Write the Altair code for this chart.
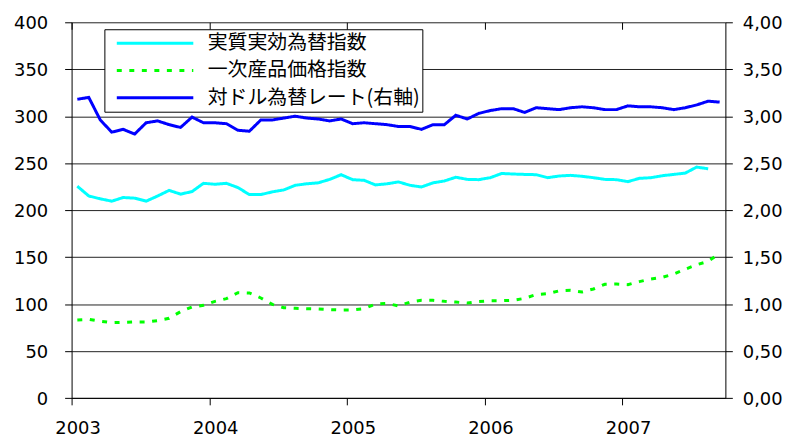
import altair as alt
import pandas as pd

years = [2003, 2004, 2005, 2006, 2007]
n_months = 57

series_names = ["実質実効為替指数", "一次産品価格指数", "対ドル為替レート(右軸)"]
colors = ["#00FFFF", "#00FF00", "#0000FF"]
dashes = [[1, 0], [5, 7.6], [1, 0]]

# 実質実効為替指数 (left axis), Jan 2003 - Aug 2007
reer = [225.4, 215, 212, 209.5, 213.4, 212.7, 209.5, 215, 221, 217,
        219.7, 228.5, 227.5, 228.5, 224, 216.5, 216.5, 219.4, 221.5, 226.4,
        228, 229, 232.7, 237.7, 232.4, 231.7, 226.8, 228, 230, 226.4,
        224.6, 229, 231, 235, 232.7, 232.4, 234.5, 239, 238.4, 238,
        237.7, 234.5, 236.3, 237, 236, 234.5, 232.7, 232.4, 230.3, 233.8,
        234.5, 236.6, 238, 239.4, 245.8, 244]

# 一次産品価格指数 (left axis), Jan 2003 - Sep 2007
commodity = [83, 83.7, 81.6, 80.1, 80.5, 80.9, 80.9, 82.3, 84.8, 91.8,
             96.8, 98.6, 102.8, 105.7, 112, 111.7, 106.4, 99.6, 96, 95.4,
             95, 94.7, 94, 93.6, 93.6, 95, 100, 100.7, 97.9, 102,
             103.9, 103.9, 102.8, 102, 101, 102.5, 103.5, 103.5, 104, 106,
             110, 111, 114, 114.5, 112.8, 116, 121, 121.3, 120.6, 123.8,
             126.6, 128.4, 132, 137, 141.8, 145.4, 154]

# 対ドル為替レート (right axis), Jan 2003 - Sep 2007
usd_rate = [3.18, 3.20, 2.96, 2.83, 2.86, 2.81, 2.93, 2.95, 2.91, 2.88,
            2.99, 2.93, 2.93, 2.92, 2.85, 2.84, 2.96, 2.96, 2.98, 3.00,
            2.98, 2.97, 2.95, 2.97, 2.92, 2.93, 2.92, 2.91, 2.89, 2.89,
            2.86, 2.91, 2.91, 3.01, 2.97, 3.03, 3.06, 3.08, 3.08, 3.04,
            3.09, 3.08, 3.07, 3.09, 3.10, 3.09, 3.07, 3.07, 3.11, 3.10,
            3.10, 3.09, 3.07, 3.09, 3.12, 3.16, 3.15]

left_ticks = [0, 50, 100, 150, 200, 250, 300, 350, 400]
right_ticks = [0, 0.5, 1.0, 1.5, 2.0, 2.5, 3.0, 3.5, 4.0]

rows = []
for name, vals in zip(series_names, [reer, commodity, usd_rate]):
    for i, v in enumerate(vals):
        rows.append({"t": i + 0.5, "series": name, "value": v})
df = pd.DataFrame(rows)

tick_vals = [(y - years[0]) * 12 for y in years]
x_scale = alt.Scale(domain=[0, n_months], nice=False, zero=False)

legend = alt.Legend(title=None, orient="none", legendX=33, legendY=7)
color = alt.Color("series:N", scale=alt.Scale(domain=series_names, range=colors), legend=legend)
dash = alt.StrokeDash("series:N", scale=alt.Scale(domain=series_names, range=dashes), legend=legend)

left = alt.Chart(df).transform_filter(
    alt.datum.series != series_names[2]
).mark_line(strokeWidth=3).encode(
    x=alt.X("t:Q", scale=x_scale, title=None,
            axis=alt.Axis(values=tick_vals, labelExpr="'' + (2003 + datum.value / 12)",
                          tickSize=7, labelPadding=15, labelOffset=6, labelFlush=False,
                          grid=False, domainColor="black", tickColor="black")),
    y=alt.Y("value:Q", scale=alt.Scale(domain=[0, 400]), title=None,
            axis=alt.Axis(values=left_ticks, tickSize=7, labelPadding=17, labelOffset=1.5,
                          grid=True, gridColor="#222222", gridWidth=1,
                          domainColor="black", tickColor="black")),
    color=color,
    strokeDash=dash,
)

right = alt.Chart(df).transform_filter(
    alt.datum.series == series_names[2]
).mark_line(strokeWidth=3).encode(
    x=alt.X("t:Q", scale=x_scale, title=None,
            axis=alt.Axis(values=tick_vals, offset=-7, tickSize=7, labels=False,
                          domain=False, grid=False, tickColor="black")),
    y=alt.Y("value:Q", scale=alt.Scale(domain=[0, 4]), title=None,
            axis=alt.Axis(orient="right", values=right_ticks, tickSize=7, labelPadding=10,
                          labelOffset=1.5, grid=False,
                          labelExpr="replace(format(datum.value, '.2f'), '.', ',')",
                          domainColor="black", tickColor="black")),
    color=color,
    strokeDash=dash,
)

chart = alt.layer(left, right).resolve_scale(
    y="independent"
).resolve_axis(
    x="independent"
).properties(
    width=658, height=378,
    padding={"left": 64, "top": 13, "right": 60, "bottom": 40},
    autosize="none",
).configure_view(
    stroke=None
).configure_axis(
    labelFont="DejaVu Sans", labelFontSize=18, labelColor="black"
).configure_legend(
    labelFont="Noto Sans CJK JP", labelFontSize=20, labelColor="black", labelLimit=400,
    symbolType="stroke", symbolSize=5929, symbolStrokeWidth=3, symbolOffset=9,
    labelOffset=13, clipHeight=24, rowPadding=3.5, padding=2,
    strokeColor="black", fillColor="white",
)

chart.save("out.html", embed_options={"renderer": "svg", "actions": False})
